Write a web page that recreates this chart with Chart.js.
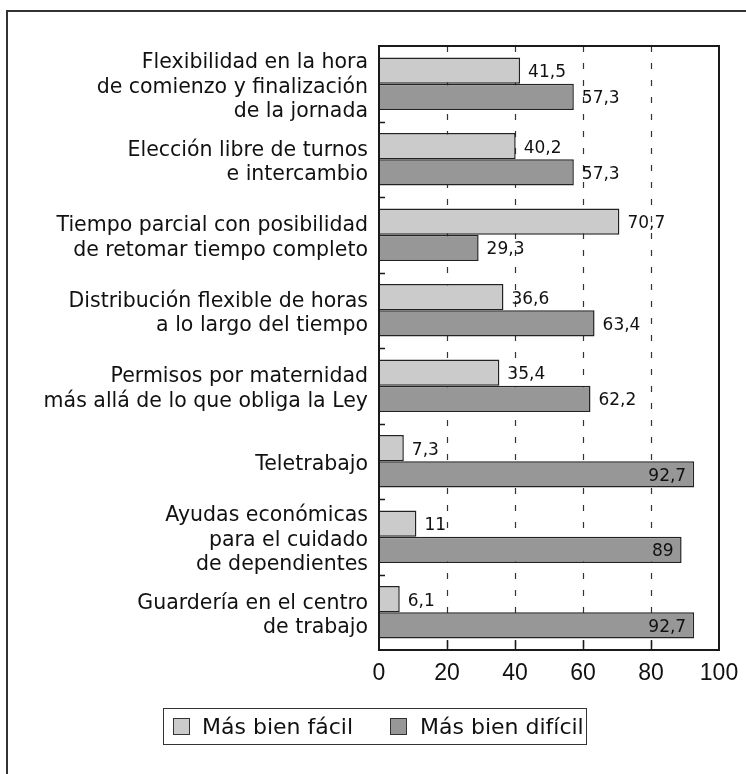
<!DOCTYPE html>
<html>
<head>
<meta charset="utf-8">
<script src="https://cdn.jsdelivr.net/npm/chart.js@4"></script>
<style>
  html,body{margin:0;padding:0;background:#fff;}
  #wrap{position:relative;width:746px;height:774px;overflow:hidden;}
  #frame{position:absolute;left:6px;top:10px;width:900px;height:900px;border-top:2px solid #333;border-left:2px solid #333;}
  canvas{position:absolute;left:0;top:0;}
  #legend{position:absolute;left:163px;top:708px;width:422px;height:35px;border:1.5px solid #333;
    font-family:"DejaVu Sans",sans-serif;font-size:22px;color:#111;}
  .sw{position:absolute;top:9px;width:15px;height:15px;border:1.2px solid #333;}
  .lbl{position:absolute;top:0;height:35px;line-height:35px;white-space:nowrap;}
</style>
</head>
<body>
<div id="wrap">
  <div id="frame"></div>
  <canvas id="c" width="746" height="774"></canvas>
  <div id="legend"></div>
</div>
<script>
const categories = [
  ["Flexibilidad en la hora", "de comienzo y finalización", "de la jornada"],
  ["Elección libre de turnos", "e intercambio"],
  ["Tiempo parcial con posibilidad", "de retomar tiempo completo"],
  ["Distribución flexible de horas", "a lo largo del tiempo"],
  ["Permisos por maternidad", "más allá de lo que obliga la Ley"],
  "Teletrabajo",
  ["Ayudas económicas", "para el cuidado", "de dependientes"],
  ["Guardería en el centro", "de trabajo"]
];
const seriesNames = ["Más bien fácil", "Más bien difícil"];
const facil   = [41.5, 40.2, 70.7, 36.6, 35.4, 7.3, 11, 6.1];
const dificil = [57.3, 57.3, 29.3, 63.4, 62.2, 92.7, 89, 92.7];
const xTicks  = [0, 20, 40, 60, 80, 100];
const colors  = ["#cbcbcb", "#979797"];

const fmt = v => String(v).replace('.', ',');

const decor = {
  id: 'decor',
  beforeDatasetsDraw(chart) {
    const {ctx, chartArea: a, scales: {x}} = chart;
    ctx.save();
    ctx.strokeStyle = '#333';
    ctx.lineWidth = 1.2;
    ctx.setLineDash([6, 11]);
    xTicks.slice(1, -1).forEach(t => {
      const px = Math.round(x.getPixelForValue(t)) + 0.5;
      ctx.beginPath(); ctx.moveTo(px, a.top); ctx.lineTo(px, a.bottom); ctx.stroke();
    });
    ctx.restore();
  },
  afterDatasetsDraw(chart) {
    const {ctx, chartArea: a, scales: {x, y}} = chart;
    ctx.save();
    ctx.strokeStyle = '#1a1a1a';
    ctx.lineWidth = 2;
    ctx.strokeRect(a.left, a.top, a.right - a.left, a.bottom - a.top);
    ctx.lineWidth = 1.5;
    xTicks.slice(1, -1).forEach(t => {
      const px = Math.round(x.getPixelForValue(t)) + 0.5;
      ctx.beginPath(); ctx.moveTo(px, a.bottom); ctx.lineTo(px, a.bottom - 10); ctx.stroke();
    });
    for (let i = 1; i < categories.length; i++) {
      const py = Math.round((y.getPixelForValue(i - 1) + y.getPixelForValue(i)) / 2) + 0.5;
      ctx.beginPath(); ctx.moveTo(a.left, py); ctx.lineTo(a.left + 6, py); ctx.stroke();
    }
    ctx.fillStyle = '#111';
    ctx.font = '17px "DejaVu Sans"';
    ctx.textBaseline = 'middle';
    chart.data.datasets.forEach((ds, di) => {
      chart.getDatasetMeta(di).data.forEach((bar, i) => {
        const v = ds.data[i];
        if (v > 85) {
          ctx.textAlign = 'right';
          ctx.fillText(fmt(v), bar.x - 8, bar.y + 2);
        } else {
          ctx.textAlign = 'left';
          ctx.fillText(fmt(v), bar.x + 8, bar.y + 2);
        }
      });
    });
    ctx.restore();
  }
};

new Chart(document.getElementById('c'), {
  type: 'bar',
  data: {
    labels: categories,
    datasets: [
      {label: seriesNames[0], data: facil, backgroundColor: colors[0], borderColor: '#222', borderWidth: 1.5},
      {label: seriesNames[1], data: dificil, backgroundColor: colors[1], borderColor: '#222', borderWidth: 1.5}
    ]
  },
  options: {
    indexAxis: 'y',
    responsive: false,
    devicePixelRatio: 1,
    animation: false,
    layout: {padding: {top: 46, right: 27, left: 0, bottom: 0}},
    datasets: {bar: {categoryPercentage: 0.695, barPercentage: 1}},
    plugins: {legend: {display: false}, tooltip: {enabled: false}},
    scales: {
      x: {
        min: 0, max: 100,
        afterBuildTicks: s => { s.ticks = xTicks.map(v => ({value: v})); },
        afterFit: s => { s.height = 124; s.paddingLeft = 0; s.paddingRight = 0; },
        grid: {display: false, drawTicks: false},
        border: {display: false},
        ticks: {color: '#111', padding: 10, autoSkip: false, font: {family: 'Liberation Sans', size: 23}, maxRotation: 0}
      },
      y: {
        afterFit: s => { s.width = 379; s.paddingTop = 0; s.paddingBottom = 0; },
        grid: {display: false, drawTicks: false},
        border: {display: false},
        ticks: {color: '#111', padding: 11, autoSkip: false, labelOffset: 3.5,
                font: {family: '"DejaVu Sans"', size: 20.5, lineHeight: 1.195}}
      }
    }
  },
  plugins: [decor]
});

const lg = document.getElementById('legend');
const pos = [{sw: 9, tx: 38}, {sw: 226, tx: 256}];
seriesNames.forEach((n, i) => {
  const sw = document.createElement('div');
  sw.className = 'sw'; sw.style.left = pos[i].sw + 'px'; sw.style.background = colors[i];
  const t = document.createElement('div');
  t.className = 'lbl'; t.style.left = pos[i].tx + 'px'; t.textContent = n;
  lg.appendChild(sw); lg.appendChild(t);
});
</script>
</body>
</html>
